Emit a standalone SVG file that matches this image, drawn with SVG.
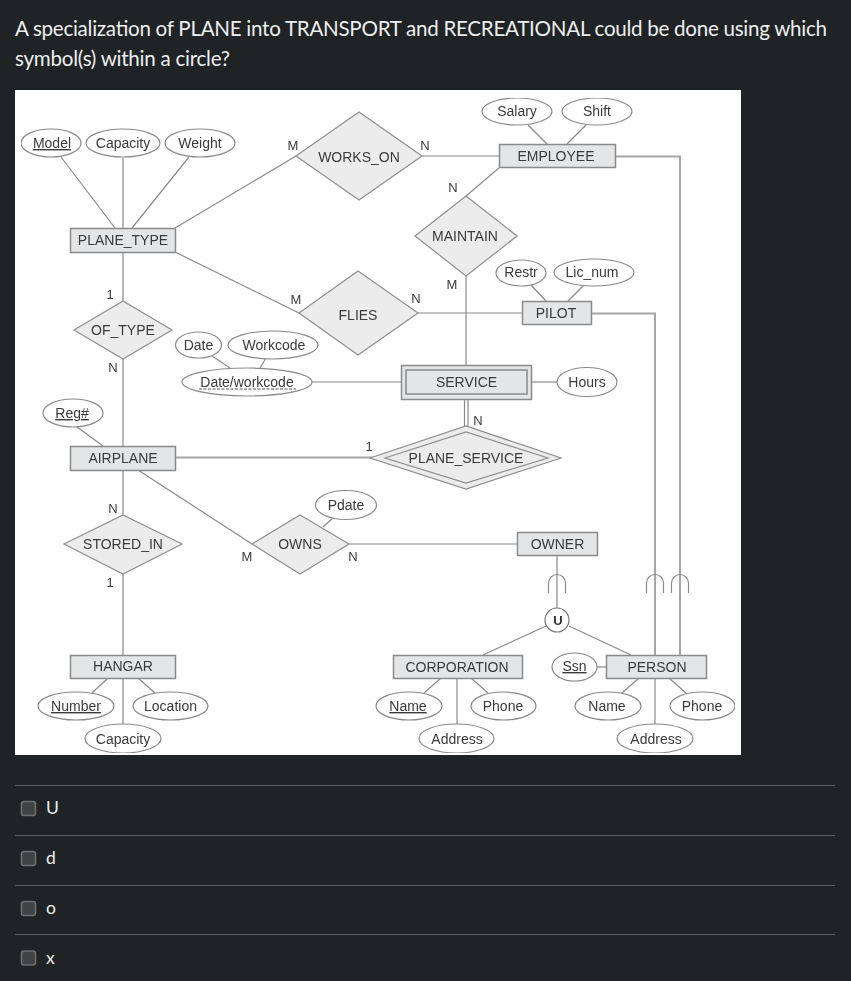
<svg xmlns="http://www.w3.org/2000/svg" width="851" height="981" viewBox="0 0 851 981">
<style>
.q{font:20.6px Lato,"Noto Sans",sans-serif;fill:#eceeef}
.o{font:17.5px Lato,"Noto Sans",sans-serif;fill:#eceeef}
.d{stroke:#5a5c5e;stroke-width:1.2}
.c{fill:#404243;stroke:#6d6f70;stroke-width:1.6}
text.t,text.m{font-family:"Liberation Sans",Arial,sans-serif;font-size:14px;fill:#3a3a3a;text-anchor:middle}
text.m{font-size:13px}
.u{text-decoration:underline}
.l line,.l path{stroke:#8a8a8a;stroke-width:1.2;fill:none}
.l .w{stroke:#a6a6a6;stroke-width:2}
.e{fill:#e4e5e6;stroke:#8a8a8a;stroke-width:1.5}
.r{fill:#ececec;stroke:#8f8f8f;stroke-width:1.2}
.a{fill:#fff;stroke:#8a8a8a;stroke-width:1.2}
</style>
<defs><filter id="soft" x="0" y="0" width="1" height="1"><feGaussianBlur stdDeviation="0.35"/></filter></defs>
<rect width="851" height="981" fill="#1f2325"/>
<text class="q" x="15" y="36" textLength="812">A specialization of PLANE into TRANSPORT and RECREATIONAL could be done using which</text>
<text class="q" x="15" y="66" textLength="215">symbol(s) within a circle?</text>
<rect x="15" y="90" width="726" height="665" fill="#fff"/>
<g filter="url(#soft)">
<g id="connectors" class="l">
<line x1="61" y1="157" x2="115" y2="228"/><line x1="123" y1="158" x2="123" y2="228"/><line x1="189" y1="157" x2="132" y2="228"/>
<line x1="175" y1="228" x2="296" y2="156"/><line x1="175" y1="252" x2="299" y2="313"/>
<line x1="123" y1="252" x2="123" y2="446"/><line x1="77" y1="427" x2="103" y2="446"/>
<line x1="123" y1="470" x2="123" y2="655"/><line x1="138" y1="470" x2="252" y2="544"/>
<line x1="108" y1="678" x2="92" y2="693"/><line x1="123" y1="678" x2="123" y2="724"/><line x1="138" y1="678" x2="155" y2="693"/>
<line class="w" x1="175" y1="457.500" x2="372" y2="457.500"/>
<line x1="464.500" y1="399" x2="464.500" y2="431"/><line x1="468" y1="399" x2="468" y2="431"/>
<line x1="212" y1="356" x2="230" y2="368"/><line x1="266" y1="358" x2="260" y2="368"/>
<line x1="312" y1="382" x2="401" y2="382"/><line x1="531" y1="382" x2="557" y2="382"/>
<line x1="466" y1="276" x2="466" y2="365"/><line x1="466" y1="196" x2="499" y2="168"/>
<line x1="422" y1="156" x2="499" y2="156"/><line x1="418" y1="313" x2="522" y2="313"/>
<line x1="528" y1="125" x2="547" y2="144"/><line x1="586" y1="125" x2="567" y2="144"/>
<line x1="531" y1="285" x2="546" y2="301"/><line x1="583" y1="286" x2="568" y2="301"/>
<line x1="333" y1="518" x2="323" y2="527"/><line x1="349" y1="544" x2="517" y2="544"/>
<line x1="557" y1="556" x2="557" y2="608"/><line x1="546" y1="626" x2="483" y2="655"/><line x1="569" y1="626" x2="631" y2="655"/>
<line x1="597" y1="667" x2="606" y2="667"/>
<line x1="441" y1="678" x2="424" y2="693"/><line x1="457" y1="678" x2="457" y2="724"/><line x1="471" y1="678" x2="488" y2="693"/>
<line x1="639" y1="678" x2="622" y2="693"/><line x1="655" y1="678" x2="655" y2="724"/><line x1="669" y1="678" x2="686" y2="693"/>
<path class="w" d="M616 156.500H680V655"/><path class="w" d="M592 313.500H655V655"/>
<path d="M548.500 593V583a8.500 8.500 0 0 1 17 0V593"/><path d="M646.500 593V583a8.500 8.500 0 0 1 17 0V593"/><path d="M671.500 593V583a8.500 8.500 0 0 1 17 0V593"/>
<text class="m" x="293" y="150">M</text><text class="m" x="425" y="150">N</text><text class="m" x="453" y="192">N</text>
<text class="m" x="452" y="289">M</text><text class="m" x="416" y="303">N</text><text class="m" x="296" y="304">M</text>
<text class="m" x="110" y="299">1</text><text class="m" x="113" y="372">N</text><text class="m" x="478" y="425">N</text>
<text class="m" x="369" y="451">1</text><text class="m" x="113" y="513">N</text><text class="m" x="110" y="587">1</text>
<text class="m" x="247" y="561">M</text><text class="m" x="353" y="561">N</text>
</g>
<g id="model"><ellipse class="a" cx="51" cy="143" rx="30" ry="14"/><text class="t u" x="52" y="148">Model</text></g>
<g id="capacity"><ellipse class="a" cx="123" cy="143" rx="37" ry="14"/><text class="t" x="123" y="148">Capacity</text></g>
<g id="weight"><ellipse class="a" cx="200" cy="143" rx="35" ry="14"/><text class="t" x="200" y="148">Weight</text></g>
<g id="plane_type"><rect class="e" x="70.500" y="228.500" width="105" height="24"/><text class="t" x="123" y="245">PLANE_TYPE</text></g>
<g id="of_type"><polygon class="r" points="74,330 123,301 172,330 123,359"/><text class="t" x="123" y="335">OF_TYPE</text></g>
<g id="works_on"><polygon class="r" points="296,156 359,112 422,156 359,200"/><text class="t" x="359" y="162">WORKS_ON</text></g>
<g id="flies"><polygon class="r" points="299,313 358,271 418,313 358,355"/><text class="t" x="358" y="320">FLIES</text></g>
<g id="date"><ellipse class="a" cx="198.500" cy="345" rx="23" ry="13"/><text class="t" x="198.500" y="350">Date</text></g>
<g id="workcode"><ellipse class="a" cx="273" cy="345" rx="45" ry="14"/><text class="t" x="274" y="350">Workcode</text></g>
<g id="date_workcode"><ellipse class="a" cx="247" cy="382" rx="65" ry="14"/><text class="t" x="247" y="387">Date/workcode</text><line x1="199" y1="389" x2="296" y2="389" stroke="#555" stroke-dasharray="3 1.500"/></g>
<g id="regnum"><ellipse class="a" cx="73" cy="413" rx="30" ry="14"/><text class="t u" x="72" y="418">Reg#</text></g>
<g id="airplane"><rect class="e" x="70.500" y="446.500" width="105" height="24"/><text class="t" x="123" y="463">AIRPLANE</text></g>
<g id="stored_in"><polygon class="r" points="64,544 123,515 182,544 123,574"/><text class="t" x="123" y="549">STORED_IN</text></g>
<g id="hangar"><rect class="e" x="70.500" y="655.500" width="105" height="23"/><text class="t" x="123" y="671">HANGAR</text></g>
<g id="number"><ellipse class="a" cx="76" cy="706" rx="38" ry="14"/><text class="t u" x="76" y="711">Number</text></g>
<g id="location"><ellipse class="a" cx="170.500" cy="706" rx="37.500" ry="14"/><text class="t" x="170.500" y="711">Location</text></g>
<g id="hangar_capacity"><ellipse class="a" cx="123" cy="738.500" rx="38" ry="14.500"/><text class="t" x="123" y="744">Capacity</text></g>
<g id="owns"><polygon class="r" points="252,544 300,515 349,544 300,574"/><text class="t" x="300" y="549">OWNS</text></g>
<g id="pdate"><ellipse class="a" cx="346" cy="505" rx="30.500" ry="14.500"/><text class="t" x="346" y="510">Pdate</text></g>
<g id="plane_service"><polygon class="r" points="370,458 466,426 561,458 466,489"/><polygon class="r" points="385,458 466,432 548,458 466,483"/><text class="t" x="466" y="463">PLANE_SERVICE</text></g>
<g id="service"><rect class="e" x="401.500" y="365.500" width="130" height="34"/><rect class="e" x="406" y="370" width="121" height="24"/><text class="t" x="466.500" y="387">SERVICE</text></g>
<g id="employee"><rect class="e" x="499.500" y="144.500" width="116" height="23"/><text class="t" x="556" y="161">EMPLOYEE</text></g>
<g id="salary"><ellipse class="a" cx="517" cy="111.500" rx="35" ry="13.500"/><text class="t" x="517" y="116">Salary</text></g>
<g id="shift"><ellipse class="a" cx="597" cy="111.500" rx="35" ry="13.500"/><text class="t" x="597" y="116">Shift</text></g>
<g id="maintain"><polygon class="r" points="415,236 466,196 517,236 466,276"/><text class="t" x="465" y="241">MAINTAIN</text></g>
<g id="restr"><ellipse class="a" cx="521" cy="273" rx="25" ry="13"/><text class="t" x="521" y="277">Restr</text></g>
<g id="lic_num"><ellipse class="a" cx="594" cy="272.500" rx="40" ry="13.500"/><text class="t" x="592" y="277">Lic_num</text></g>
<g id="pilot"><rect class="e" x="522.500" y="301.500" width="69" height="23"/><text class="t" x="556" y="318">PILOT</text></g>
<g id="hours"><ellipse class="a" cx="587" cy="382" rx="30" ry="14.500"/><text class="t" x="587" y="387">Hours</text></g>
<g id="owner"><rect class="e" x="517.500" y="532.500" width="80" height="23"/><text class="t" x="557.500" y="549">OWNER</text></g>
<g id="union"><circle cx="557" cy="620" r="12" fill="#fff" stroke="#777" stroke-width="1.200"/><text x="558" y="625" text-anchor="middle" style="font:bold 13px 'Liberation Sans',sans-serif" fill="#333">U</text></g>
<g id="corporation"><rect class="e" x="393.500" y="655.500" width="129" height="23"/><text class="t" x="457" y="672">CORPORATION</text></g>
<g id="person"><rect class="e" x="606.500" y="655.500" width="100" height="23"/><text class="t" x="657" y="672">PERSON</text></g>
<g id="ssn"><ellipse class="a" cx="574.500" cy="667" rx="22.500" ry="14"/><text class="t u" x="574.500" y="671">Ssn</text></g>
<g id="corp_name"><ellipse class="a" cx="409" cy="706" rx="33" ry="14"/><text class="t u" x="408" y="711">Name</text></g>
<g id="corp_phone"><ellipse class="a" cx="503.500" cy="706" rx="32.500" ry="14"/><text class="t" x="503" y="711">Phone</text></g>
<g id="corp_address"><ellipse class="a" cx="456.500" cy="738.500" rx="37.500" ry="14.500"/><text class="t" x="457" y="744">Address</text></g>
<g id="person_name"><ellipse class="a" cx="608" cy="706" rx="33" ry="14"/><text class="t" x="607" y="711">Name</text></g>
<g id="person_phone"><ellipse class="a" cx="702.500" cy="706" rx="32.500" ry="14"/><text class="t" x="702" y="711">Phone</text></g>
<g id="person_address"><ellipse class="a" cx="655" cy="738.500" rx="38" ry="14.500"/><text class="t" x="656" y="744">Address</text></g>
</g>
<line class="d" x1="15" y1="785.500" x2="835" y2="785.500"/><line class="d" x1="15" y1="835.500" x2="835" y2="835.500"/><line class="d" x1="15" y1="885.500" x2="835" y2="885.500"/><line class="d" x1="15" y1="934.500" x2="835" y2="934.500"/>
<rect class="c" x="21.500" y="801.500" width="14" height="14" rx="2.500"/><rect class="c" x="21.500" y="851.500" width="14" height="14" rx="2.500"/><rect class="c" x="21.500" y="901.500" width="14" height="14" rx="2.500"/><rect class="c" x="21.500" y="951" width="14" height="14" rx="2.500"/>
<text class="o" x="46" y="814">U</text><text class="o" x="46" y="864">d</text><text class="o" x="46" y="914">o</text><text class="o" x="46" y="964">x</text>
</svg>
